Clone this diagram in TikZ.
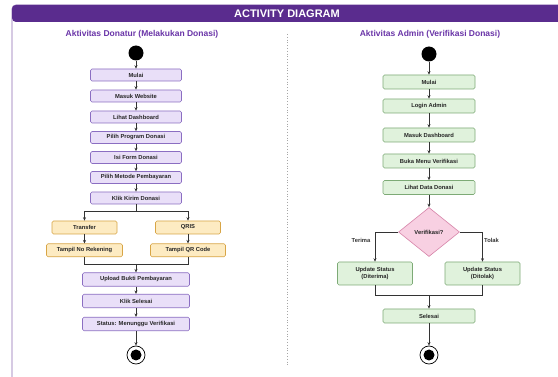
\documentclass[tikz,border=0pt]{standalone}
\usepackage{fontspec}
\setmainfont{Liberation Sans}
\usetikzlibrary{shapes.geometric,arrows.meta}
\definecolor{titlepurple}{HTML}{5A2C8E}
\definecolor{headpurple}{HTML}{6A35A8}
\definecolor{pfill}{HTML}{E9DFF8}
\definecolor{pdraw}{HTML}{8B6EC2}
\definecolor{yfill}{HTML}{FDEBC2}
\definecolor{ydraw}{HTML}{D8A546}
\definecolor{gfill}{HTML}{E0F2DC}
\definecolor{gdraw}{HTML}{7DAA76}
\definecolor{dfill}{HTML}{F8D0E2}
\definecolor{ddraw}{HTML}{D683A8}
\definecolor{lineclr}{HTML}{333333}
\tikzset{
  boxtext/.style={font=\fontsize{5.8}{6.6}\selectfont\bfseries, text=black!85, align=center},
  pbox/.style={boxtext, rectangle, rounded corners=1.5pt, draw=pdraw, fill=pfill, line width=0.6pt, minimum width=91pt, minimum height=12pt, inner sep=0pt},
  pwide/.style={pbox, minimum width=107pt, minimum height=13.5pt},
  ybox/.style={boxtext, rectangle, rounded corners=1.5pt, draw=ydraw, fill=yfill, line width=0.6pt, minimum height=13pt, inner sep=0pt},
  gbox/.style={boxtext, rectangle, rounded corners=1.5pt, draw=gdraw, fill=gfill, line width=0.6pt, minimum width=92pt, minimum height=14pt, inner sep=0pt},
  gtall/.style={gbox, minimum width=75pt, minimum height=23pt},
  decis/.style={boxtext, diamond, draw=ddraw, fill=dfill, line width=0.6pt, minimum width=61pt, minimum height=49pt, inner sep=0pt},
  startdot/.style={circle, fill=black, minimum size=15pt, inner sep=0pt},
  enddot/.style={circle, draw=black, fill=white, line width=0.7pt, minimum size=18pt, inner sep=0pt, path picture={\fill[black] (path picture bounding box.center) circle (5.5pt);}},
  conn/.style={draw=lineclr, line width=0.7pt},
  arr/.style={conn, -{Stealth[length=3.5pt,width=3pt]}},
  heading/.style={font=\fontsize{8.5}{10}\selectfont\bfseries, text=headpurple},
  lbl/.style={font=\fontsize{5.8}{7}\selectfont\bfseries, text=black!80},
}
\begin{document}
\begin{tikzpicture}[x=1pt,y=-1pt]
\useasboundingbox (0,0) rectangle (558,377);
\begin{scope}
\clip (0,0) rectangle (558,377);
\fill[white] (0,0) rectangle (558,377);
\draw[titlepurple!70, line width=0.8pt, rounded corners=4pt] (12,5) rectangle (575,395);
\fill[titlepurple, rounded corners=4pt] (12,5) -- (575,5) -- (575,22) -- (12,22) -- cycle;
\draw[black!35, dotted, line width=0.8pt] (287,34) -- (287,367);
\end{scope}
\node[font=\fontsize{11}{12}\selectfont\bfseries, text=white] (title) at (287,14) {ACTIVITY DIAGRAM};
\node[heading] (hl) at (142,34.5) {Aktivitas Donatur (Melakukan Donasi)};
\node[heading] (hr) at (430,34.5) {Aktivitas Admin (Verifikasi Donasi)};

% ---------- left column ----------
\node[startdot] (ls) at (136,53) {};
\node[pbox] (l1) at (136,75) {Mulai};
\node[pbox] (l2) at (136,96) {Masuk Website};
\node[pbox] (l3) at (136,117) {Lihat Dashboard};
\node[pbox] (l4) at (136,137.5) {Pilih Program Donasi};
\node[pbox] (l5) at (136,157.5) {Isi Form Donasi};
\node[pbox] (l6) at (136,177.5) {Pilih Metode Pembayaran};
\node[pbox] (l7) at (136,198) {Klik Kirim Donasi};
\node[ybox, minimum width=65pt] (tr) at (84.5,227.5) {Transfer};
\node[ybox, minimum width=65pt] (qr) at (188,227.5) {QRIS};
\node[ybox, minimum width=76pt] (rek) at (84.5,250.3) {Tampil No Rekening};
\node[ybox, minimum width=75pt] (qrc) at (188,250.3) {Tampil QR Code};
\coordinate (lsplit) at (136,211.7);
\coordinate (lmerge) at (136,264);
\node[pwide] (l8) at (136,279.5) {Upload Bukti Pembayaran};
\node[pwide] (l9) at (136,301) {Klik Selesai};
\node[pwide] (l10) at (136,324) {Status: Menunggu Verifikasi};
\node[enddot] (le) at (136,355) {};

\draw[arr] (ls) -- (l1);
\draw[arr] (l1) -- (l2);
\draw[arr] (l2) -- (l3);
\draw[arr] (l3) -- (l4);
\draw[arr] (l4) -- (l5);
\draw[arr] (l5) -- (l6);
\draw[arr] (l6) -- (l7);
\draw[conn] (l7) -- (lsplit);
\draw[arr] (lsplit) -| (tr.north);
\draw[arr] (lsplit) -| (qr.north);
\draw[arr] (tr) -- (rek);
\draw[arr] (qr) -- (qrc);
\draw[conn] (rek.south) |- (lmerge);
\draw[conn] (qrc.south) |- (lmerge);
\draw[arr] (lmerge) -- (l8);
\draw[arr] (l8) -- (l9);
\draw[arr] (l9) -- (l10);
\draw[arr] (l10) -- (le);

% ---------- right column ----------
\node[startdot] (rs) at (429,54) {};
\node[gbox] (r1) at (429,82) {Mulai};
\node[gbox] (r2) at (429,106) {Login Admin};
\node[gbox] (r3) at (429,135) {Masuk Dashboard};
\node[gbox] (r4) at (429,161) {Buka Menu Verifikasi};
\node[gbox] (r5) at (429,187.5) {Lihat Data Donasi};
\node[decis] (dec) at (429,232) {Verifikasi?};
\node[gtall] (acc) at (375,273.5) {Update Status\\(Diterima)};
\node[gtall] (rej) at (482.5,273.5) {Update Status\\(Ditolak)};
\coordinate (rmerge) at (429,295.7);
\node[gbox] (r6) at (429,316) {Selesai};
\node[enddot] (re) at (429,355) {};
\node[lbl] (lt) at (361,240) {Terima};
\node[lbl] (lk) at (491.5,240) {Tolak};

\draw[arr] (rs) -- (r1);
\draw[arr] (r1) -- (r2);
\draw[arr] (r2) -- (r3);
\draw[arr] (r3) -- (r4);
\draw[arr] (r4) -- (r5);
\draw[arr] (r5) -- (dec);
\draw[arr] (dec.west) -| (acc.north);
\draw[arr] (dec.east) -| (rej.north);
\draw[conn] (acc.south) |- (rmerge);
\draw[conn] (rej.south) |- (rmerge);
\draw[arr] (rmerge) -- (r6);
\draw[arr] (r6) -- (re);
\end{tikzpicture}
\end{document}
